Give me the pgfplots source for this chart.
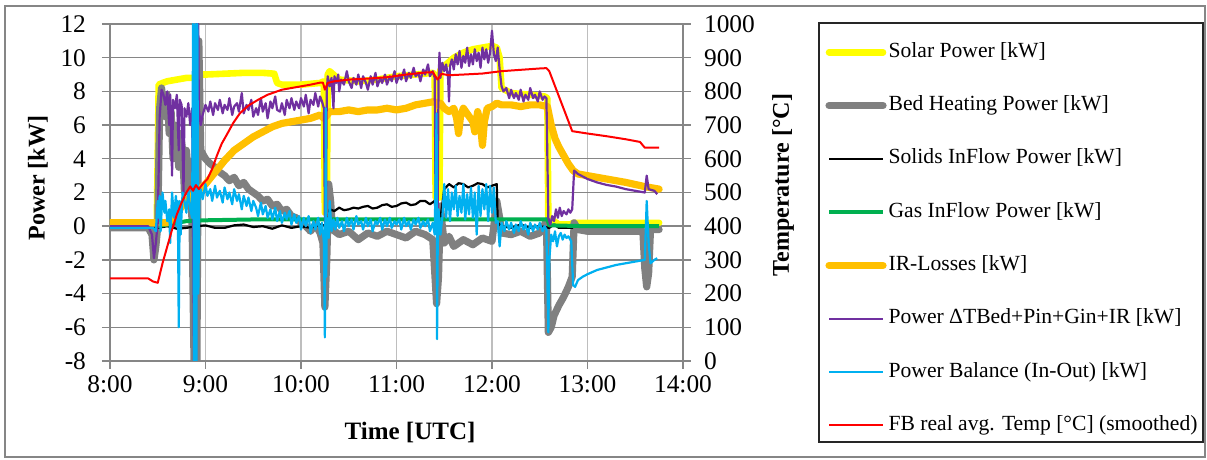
\documentclass[border=0pt]{standalone}
\usepackage{fontspec}
\setmainfont{Liberation Serif}
\usepackage{pgfplots}
\pgfplotsset{compat=1.18}
\definecolor{cSolar}{RGB}{255,255,0}
\definecolor{cBed}{RGB}{128,128,128}
\definecolor{cGas}{RGB}{0,176,80}
\definecolor{cIR}{RGB}{255,192,0}
\definecolor{cPow}{RGB}{112,48,160}
\definecolor{cBal}{RGB}{0,176,240}
\definecolor{cTemp}{RGB}{255,0,0}
\definecolor{gridH}{RGB}{134,134,134}
\definecolor{gridV}{RGB}{190,190,190}
\definecolor{frameC}{RGB}{134,134,134}
\begin{document}
\begin{tikzpicture}
\useasboundingbox (0,0) rectangle (603.5pt,230pt);
\draw[frameC, line width=1pt] (2.5pt,1.5pt) rectangle (602.5pt,227pt);
\draw[black!85, line width=0.6pt] (409.5pt,9pt) rectangle (601.5pt,218.5pt);
\begin{axis}[
  at={(55pt,49.5pt)}, anchor=south west,
  scale only axis, width=286.5pt, height=168.5pt,
  xmin=8, xmax=14, ymin=-8, ymax=12,
  xtick={8,9,10,11,12,13,14},
  xticklabels={8:00,9:00,10:00,11:00,12:00,13:00,14:00},
  ytick={-8,-6,-4,-2,0,2,4,6,8,10,12},
  yticklabels={-8,-6,-4,-2,0,2,4,6,8,10,12},
  tick pos=left, tick align=outside, major tick length=4pt,
  tick style={gridH, line width=0.7pt},
  axis line style={gridH, line width=0.7pt},
  xmajorgrids, ymajorgrids,
  x grid style={gridV, line width=0.7pt},
  y grid style={gridH, line width=0.7pt},
  ticklabel style={font=\fontsize{12.7}{14}\selectfont, text=black},
  yticklabel style={xshift=-4.5pt},
  xlabel={Time [UTC]},
  xlabel style={at={(axis description cs:0.5236,-0.2136)}, anchor=center, font=\bfseries\fontsize{12.5}{14}\selectfont},
  ylabel={Power [kW]},
  ylabel style={at={(axis description cs:-0.1257,0.543)}, anchor=center, font=\bfseries\fontsize{12}{14}\selectfont},
  legend cell align=left,
  legend image code/.code={\draw[#1] (0pt,0pt) -- (27pt,0pt);},
  legend style={at={(axis description cs:1.2479,0.947)}, anchor=north west, draw=none, fill=none,
    inner sep=0pt, row sep=16.65pt,
    nodes={inner sep=0pt, text height=7.5pt, text depth=2.5pt},
    font=\fontsize{10.8}{12}\selectfont,
    /tikz/every odd column/.append style={column sep=1pt}},
  line join=round,
]
% Solar Power
\addplot[cSolar, line width=3.3pt, line cap=round] coordinates {
(8.0,0.2)(8.49,0.2)(8.51,8.4)(8.55,8.5)(8.6,8.6)(8.7,8.7)(8.8,8.8)(8.88,8.8)(8.92,9.0)(9.0,9.0)(9.2,9.05)(9.4,9.1)(9.6,9.1)(9.72,9.05)(9.75,8.5)(9.8,8.4)(10.0,8.4)(10.2,8.5)(10.24,8.6)(10.25,0.8)(10.27,0.8)(10.28,9.0)(10.3,9.2)(10.4,8.7)(10.6,8.6)(10.8,8.7)(11.0,8.9)(11.2,9.0)(11.38,9.1)(11.4,9.0)(11.41,1.7)(11.45,1.7)(11.46,9.3)(11.5,9.5)(11.6,10.0)(11.7,10.3)(11.8,10.5)(11.9,10.6)(12.0,10.7)(12.05,10.6)(12.08,10.0)(12.1,8.2)(12.2,7.9)(12.4,7.8)(12.55,7.7)(12.58,7.6)(12.59,0.3)(12.65,0.3)(12.7,0.1)(12.82,0.1)(12.85,0.2)(13.0,0.2)(13.5,0.2)(13.75,0.2)
};
\addlegendentry{Solar Power [kW]}
% Bed Heating Power
\addplot[cBed, line width=3.6pt, line cap=round] coordinates {
(8.0,-0.1)(8.4,-0.1)(8.44,-0.5)(8.46,-2.0)(8.48,-1.2)(8.5,0)(8.52,7.0)(8.54,8.2)(8.56,7.0)(8.58,6.5)(8.6,7.8)(8.62,5.5)(8.64,6.8)(8.66,4.0)(8.68,6.0)(8.7,5.0)(8.72,3.5)(8.74,5.5)(8.76,4.5)(8.78,2.0)(8.8,4.5)(8.82,3.0)(8.84,3.8)(8.86,0)(8.88,-8)(8.9,-6)(8.91,-8)(8.93,11)(8.95,4.5)(9.0,4.0)(9.05,3.7)(9.1,3.5)(9.15,3.2)(9.2,3.0)(9.25,2.7)(9.3,2.9)(9.35,2.4)(9.4,2.6)(9.45,2.2)(9.5,2.0)(9.55,1.8)(9.6,1.5)(9.65,1.6)(9.7,1.2)(9.75,1.3)(9.8,0.9)(9.85,1.0)(9.9,0.6)(9.95,0.5)(10.0,0.2)(10.05,0.0)(10.1,-0.3)(10.15,0.1)(10.2,-0.4)(10.23,-1.0)(10.25,-4.8)(10.27,-2.0)(10.29,2.5)(10.31,1.5)(10.33,-0.2)(10.4,-0.5)(10.5,-0.3)(10.6,-0.8)(10.7,-0.4)(10.8,-0.6)(10.9,-0.3)(11.0,-0.5)(11.1,-0.7)(11.2,-0.3)(11.3,-0.5)(11.38,-0.8)(11.42,-4.6)(11.44,-3.0)(11.46,1.2)(11.48,0.0)(11.5,-1.0)(11.55,-0.6)(11.6,-1.2)(11.7,-0.8)(11.8,-1.1)(11.9,-0.7)(12.0,-0.9)(12.05,1.5)(12.08,0.5)(12.1,-0.4)(12.2,-0.5)(12.3,-0.3)(12.4,-0.6)(12.5,-0.4)(12.57,0.3)(12.59,-6.3)(12.62,-6.0)(12.65,-5.3)(12.7,-4.7)(12.75,-4.2)(12.8,-3.6)(12.84,-3.0)(12.86,0.2)(12.9,-0.2)(13.0,-0.3)(13.3,-0.3)(13.58,-0.3)(13.6,-2.5)(13.62,-3.6)(13.64,-2.8)(13.66,-0.2)(13.75,-0.2)
};
\addlegendentry{Bed Heating Power [kW]}
% Solids InFlow Power
\addplot[black, line width=1.1pt] coordinates {
(8.0,-0.1)(8.5,-0.1)(8.6,0.0)(8.7,-0.15)(8.8,-0.1)(8.9,0.0)(9.0,0.05)(9.1,-0.1)(9.2,-0.1)(9.3,0.05)(9.4,0.1)(9.5,-0.05)(9.6,0.0)(9.7,-0.15)(9.8,0.05)(9.9,-0.1)(10.0,0.0)(10.1,-0.1)(10.2,0.1)(10.28,0.0)(10.3,1.0)(10.35,0.9)(10.4,1.1)(10.45,0.95)(10.5,1.0)(10.55,1.1)(10.6,1.05)(10.65,1.15)(10.7,1.2)(10.75,1.05)(10.8,1.1)(10.85,1.25)(10.9,1.3)(10.95,1.15)(11.0,1.2)(11.05,1.35)(11.1,1.4)(11.15,1.25)(11.2,1.3)(11.25,1.5)(11.3,1.5)(11.35,1.3)(11.4,1.5)(11.42,0.2)(11.45,0.0)(11.5,2.2)(11.55,2.5)(11.6,2.3)(11.65,2.55)(11.7,2.5)(11.75,2.3)(11.8,2.4)(11.85,2.55)(11.9,2.5)(11.95,2.3)(12.0,2.4)(12.05,2.5)(12.06,0.2)(12.1,0.0)(12.2,-0.1)(12.3,0.1)(12.4,-0.1)(12.5,0.0)(12.6,-0.1)(12.65,0.1)(12.7,-0.1)(12.85,-0.1)
};
\addlegendentry{Solids InFlow Power [kW]}
% Gas InFlow Power
\addplot[cGas, line width=2pt] coordinates {
(8.5,0.0)(8.6,0.1)(8.7,0.2)(8.8,0.3)(9.0,0.35)(9.5,0.4)(10.0,0.4)(11.0,0.4)(12.0,0.4)(12.58,0.4)(12.6,0.05)(13.0,0.0)(13.75,0.0)
};
\addlegendentry{Gas InFlow Power [kW]}
% IR-Losses
\addplot[cIR, line width=3.6pt, line cap=round] coordinates {
(8.0,0.2)(8.6,0.2)(8.65,0.4)(8.7,0.8)(8.8,1.5)(8.9,2.0)(9.0,2.5)(9.1,3.2)(9.2,3.9)(9.3,4.5)(9.4,4.9)(9.5,5.3)(9.6,5.6)(9.7,5.9)(9.8,6.1)(9.9,6.2)(10.0,6.3)(10.1,6.4)(10.2,6.6)(10.24,6.4)(10.26,6.5)(10.3,6.8)(10.4,6.8)(10.5,6.9)(10.6,6.8)(10.7,6.9)(10.8,6.9)(10.9,7.0)(11.0,6.9)(11.1,7.0)(11.2,7.2)(11.3,7.3)(11.4,7.4)(11.43,7.2)(11.46,7.3)(11.5,7.0)(11.55,6.8)(11.6,7.0)(11.63,6.4)(11.65,5.5)(11.67,6.5)(11.7,7.0)(11.75,6.6)(11.8,6.2)(11.82,5.6)(11.85,6.8)(11.88,6.0)(11.9,4.8)(11.92,6.2)(11.95,7.0)(12.0,7.1)(12.05,7.3)(12.1,7.2)(12.2,7.2)(12.3,7.1)(12.4,7.2)(12.5,7.2)(12.58,7.1)(12.62,6.0)(12.66,5.2)(12.7,4.7)(12.75,4.2)(12.8,3.7)(12.85,3.3)(12.9,3.1)(13.0,3.0)(13.2,2.8)(13.4,2.6)(13.6,2.35)(13.75,2.2)
};
\addlegendentry{IR-Losses [kW]}
% Power dTBed+Pin+Gin+IR
\addplot[cPow, line width=1.1pt] coordinates {
(8.0,0.0)(8.4,0.0)(8.44,-0.5)(8.46,-1.9)(8.48,-1.0)(8.5,0.2)(8.52,6.5)(8.54,8.1)(8.56,7.8)(8.58,7.2)(8.6,8.0)(8.62,6.0)(8.63,7.8)(8.65,3.0)(8.66,7.5)(8.68,7.0)(8.7,7.8)(8.72,4.5)(8.73,7.5)(8.75,7.2)(8.77,2.0)(8.78,7.0)(8.8,6.5)(8.82,7.3)(8.84,6.0)(8.86,7.0)(8.88,-8)(8.9,-8)(8.91,12)(8.925,12)(8.93,7.0)(8.95,6.0)(8.97,6.6)(9.0,7.2)(9.03,6.8)(9.05,7.4)(9.08,6.6)(9.1,7.3)(9.13,6.9)(9.15,7.5)(9.18,6.7)(9.2,7.2)(9.23,6.9)(9.25,7.6)(9.28,6.6)(9.3,7.1)(9.33,7.3)(9.35,6.8)(9.38,7.9)(9.4,6.7)(9.43,7.2)(9.45,6.9)(9.48,7.5)(9.5,6.5)(9.53,7.0)(9.55,6.6)(9.58,7.6)(9.6,6.8)(9.63,7.3)(9.65,6.4)(9.68,7.4)(9.7,7.0)(9.73,7.7)(9.75,6.9)(9.78,6.8)(9.8,7.3)(9.83,6.6)(9.85,7.5)(9.88,7.0)(9.9,7.6)(9.93,6.9)(9.95,7.4)(9.98,7.0)(10.0,7.6)(10.03,7.1)(10.05,7.8)(10.08,6.7)(10.1,7.5)(10.13,7.2)(10.15,7.9)(10.18,7.1)(10.2,7.7)(10.22,7.4)(10.24,7.0)(10.25,0.5)(10.26,-0.5)(10.27,8.0)(10.28,8.9)(10.3,8.3)(10.32,8.8)(10.34,7.0)(10.35,8.9)(10.37,8.5)(10.39,9.0)(10.4,8.0)(10.42,8.7)(10.45,8.4)(10.48,9.2)(10.5,8.6)(10.53,8.2)(10.55,8.8)(10.58,8.4)(10.6,9.0)(10.63,8.2)(10.65,8.9)(10.68,8.5)(10.7,8.1)(10.73,8.9)(10.75,8.4)(10.78,9.1)(10.8,8.3)(10.83,8.8)(10.85,8.5)(10.88,9.0)(10.9,8.4)(10.93,8.9)(10.95,8.6)(10.98,9.2)(11.0,8.5)(11.03,9.0)(11.05,8.7)(11.08,9.3)(11.1,8.6)(11.13,9.1)(11.15,8.8)(11.18,9.4)(11.2,8.9)(11.23,9.1)(11.25,8.6)(11.28,9.3)(11.3,9.0)(11.33,9.6)(11.35,8.9)(11.38,9.2)(11.4,8.8)(11.41,0.5)(11.43,-0.5)(11.44,8.5)(11.45,10.3)(11.46,8.8)(11.48,9.7)(11.5,9.2)(11.52,9.6)(11.54,8.8)(11.55,7.4)(11.56,9.5)(11.58,9.9)(11.6,9.3)(11.62,10.2)(11.64,9.6)(11.66,10.4)(11.68,9.4)(11.7,10.1)(11.72,9.7)(11.74,10.6)(11.76,9.5)(11.78,10.2)(11.8,9.6)(11.82,10.5)(11.84,9.8)(11.86,10.3)(11.88,9.4)(11.9,10.6)(11.92,9.9)(11.94,10.5)(11.96,9.7)(11.98,10.3)(12.0,11.6)(12.02,10.2)(12.04,9.8)(12.06,10.6)(12.08,9.3)(12.1,8.3)(12.12,8.0)(12.15,8.2)(12.18,7.6)(12.2,8.1)(12.23,7.6)(12.25,7.9)(12.28,7.5)(12.3,8.1)(12.33,7.4)(12.35,7.8)(12.38,7.5)(12.4,8.2)(12.43,7.6)(12.45,7.8)(12.48,7.4)(12.5,8.0)(12.53,7.5)(12.55,7.7)(12.57,7.6)(12.59,0.5)(12.61,0.1)(12.63,0.6)(12.65,0.3)(12.67,1.0)(12.69,0.5)(12.71,1.1)(12.73,0.6)(12.75,0.9)(12.78,0.7)(12.8,1.0)(12.82,0.8)(12.84,1.0)(12.86,3.3)(12.9,3.1)(13.0,2.8)(13.1,2.6)(13.2,2.45)(13.3,2.35)(13.4,2.2)(13.5,2.1)(13.6,2.0)(13.62,3.0)(13.64,2.2)(13.7,2.1)(13.73,1.9)
};
\addlegendentry{Power ΔTBed+Pin+Gin+IR [kW]}
% Power Balance
\addplot[cBal, line width=1.1pt] coordinates {
(8.0,-0.1)(8.45,-0.1)(8.48,-0.3)(8.5,1.5)(8.51,0.5)(8.52,1.8)(8.53,-0.3)(8.55,2.0)(8.57,0.8)(8.58,1.5)(8.6,0.3)(8.62,1.0)(8.63,-1.0)(8.65,2.0)(8.67,0.5)(8.69,1.8)(8.7,0.0)(8.71,1.5)(8.72,-6.0)(8.73,1.5)(8.74,-0.5)(8.76,2.0)(8.78,1.5)(8.8,0.8)(8.82,2.2)(8.84,1.0)(8.86,0.5)(8.87,12)(8.88,-8)(8.895,12)(8.905,-8)(8.915,12)(8.925,-4)(8.935,1.5)(8.95,2.2)(8.97,1.6)(9.0,2.5)(9.02,1.8)(9.05,2.2)(9.07,1.5)(9.1,2.4)(9.12,1.7)(9.15,2.1)(9.18,1.4)(9.2,2.3)(9.23,1.6)(9.25,2.0)(9.28,1.3)(9.3,2.2)(9.33,1.5)(9.35,1.9)(9.38,1.0)(9.4,1.8)(9.43,1.2)(9.45,1.7)(9.48,0.9)(9.5,1.5)(9.53,1.1)(9.55,0.6)(9.58,1.4)(9.6,0.7)(9.63,1.2)(9.65,0.5)(9.68,1.0)(9.7,0.4)(9.73,1.1)(9.75,0.3)(9.78,0.9)(9.8,0.2)(9.83,0.8)(9.85,0.4)(9.88,0.9)(9.9,0.1)(9.93,0.7)(9.95,0.2)(9.98,0.6)(10.0,-0.2)(10.03,0.5)(10.05,0.0)(10.08,0.6)(10.1,-0.4)(10.13,0.3)(10.15,-0.2)(10.18,0.5)(10.2,-0.5)(10.22,0.2)(10.24,-1.0)(10.25,-6.6)(10.26,7.0)(10.265,-3.0)(10.27,0.5)(10.29,-0.7)(10.3,1.5)(10.32,-0.3)(10.34,0.4)(10.36,-0.2)(10.38,0.5)(10.4,-0.1)(10.43,0.3)(10.45,-0.3)(10.48,0.5)(10.5,0.0)(10.53,0.4)(10.55,-0.2)(10.58,0.6)(10.6,0.1)(10.63,0.3)(10.65,-0.2)(10.68,0.5)(10.7,0.0)(10.73,0.4)(10.75,-0.3)(10.78,0.3)(10.8,0.1)(10.83,0.5)(10.85,-0.2)(10.88,0.4)(10.9,0.0)(10.93,0.5)(10.95,-0.1)(10.98,0.3)(11.0,0.1)(11.03,0.4)(11.05,-0.2)(11.08,0.5)(11.1,0.0)(11.13,0.3)(11.15,-0.2)(11.18,0.4)(11.2,0.1)(11.23,0.5)(11.25,-0.1)(11.28,0.3)(11.3,0.0)(11.33,0.4)(11.35,-0.3)(11.38,0.2)(11.4,-0.5)(11.42,6.7)(11.425,-6.7)(11.43,-2.0)(11.44,1.0)(11.46,-0.5)(11.48,0.5)(11.5,2.5)(11.52,0.5)(11.54,2.2)(11.56,0.3)(11.58,2.0)(11.6,1.0)(11.62,2.4)(11.64,0.6)(11.66,1.8)(11.68,0.8)(11.7,2.5)(11.72,0.4)(11.74,1.9)(11.76,0.7)(11.78,2.3)(11.8,0.5)(11.82,2.0)(11.84,-0.5)(11.86,2.4)(11.88,0.6)(11.9,2.2)(11.92,1.0)(11.94,2.5)(11.96,0.3)(11.98,2.4)(12.0,0.8)(12.02,2.3)(12.04,0.2)(12.06,0.3)(12.08,-1.2)(12.1,0.2)(12.13,-0.3)(12.15,0.3)(12.18,-0.2)(12.2,0.2)(12.23,-0.4)(12.25,0.1)(12.28,-0.3)(12.3,0.3)(12.33,-0.2)(12.35,0.1)(12.38,-0.5)(12.4,0.2)(12.43,-0.3)(12.45,0.1)(12.48,-0.2)(12.5,0.2)(12.53,-0.3)(12.55,0.0)(12.57,-0.2)(12.59,-6.3)(12.6,-2.0)(12.62,-0.5)(12.64,-0.9)(12.66,-0.3)(12.68,-1.2)(12.7,-0.6)(12.72,-0.4)(12.74,-0.8)(12.76,-0.5)(12.78,-0.7)(12.8,-0.6)(12.83,-0.9)(12.85,-3.5)(12.87,-3.6)(12.9,-3.2)(12.95,-3.0)(13.0,-2.85)(13.1,-2.6)(13.2,-2.45)(13.3,-2.3)(13.4,-2.2)(13.5,-2.1)(13.6,-2.0)(13.62,1.5)(13.64,-1.0)(13.66,-2.2)(13.7,-2.0)(13.73,-1.9)
};
\addlegendentry{Power Balance (In-Out) [kW]}
\addlegendimage{cTemp, line width=1pt}
\addlegendentry{FB real avg. Temp [°C] (smoothed)}
\end{axis}
\begin{axis}[
  at={(55pt,49.5pt)}, anchor=south west,
  scale only axis, width=286.5pt, height=168.5pt,
  xmin=8, xmax=14, ymin=0, ymax=1000,
  axis x line=none, axis y line*=right,
  ytick={0,100,200,300,400,500,600,700,800,900,1000},
  yticklabels={0,100,200,300,400,500,600,700,800,900,1000},
  tick align=outside, major tick length=4pt,
  tick style={gridH, line width=0.7pt},
  axis line style={gridH, line width=0.7pt},
  ticklabel style={font=\fontsize{12.7}{14}\selectfont, text=black},
  yticklabel style={xshift=3pt},
  ylabel={Temperature [°C]},
  ylabel style={at={(axis description cs:1.1745,0.522)}, anchor=center, rotate=0, font=\bfseries\fontsize{12}{14}\selectfont},
  line join=round,
]
\addplot[cTemp, line width=1pt] coordinates {
(8.0,245)(8.4,245)(8.45,236)(8.5,232)(8.55,290)(8.6,340)(8.65,390)(8.7,435)(8.75,470)(8.8,500)(8.84,518)(8.87,505)(8.9,522)(8.93,510)(8.97,525)(9.02,540)(9.07,570)(9.12,610)(9.17,645)(9.22,670)(9.29,706)(9.36,735)(9.45,758)(9.55,775)(9.65,790)(9.8,805)(10.0,815)(10.1,820)(10.2,826)(10.23,826)(10.25,805)(10.28,825)(10.35,830)(10.5,835)(10.7,838)(10.9,842)(11.1,850)(11.3,856)(11.38,857)(11.43,835)(11.47,852)(11.55,848)(11.7,850)(11.9,853)(12.1,860)(12.3,864)(12.5,868)(12.57,869)(12.6,860)(12.84,682)(13.0,675)(13.2,667)(13.4,658)(13.55,650)(13.6,633)(13.75,633)
};
\end{axis}
\end{tikzpicture}
\end{document}
